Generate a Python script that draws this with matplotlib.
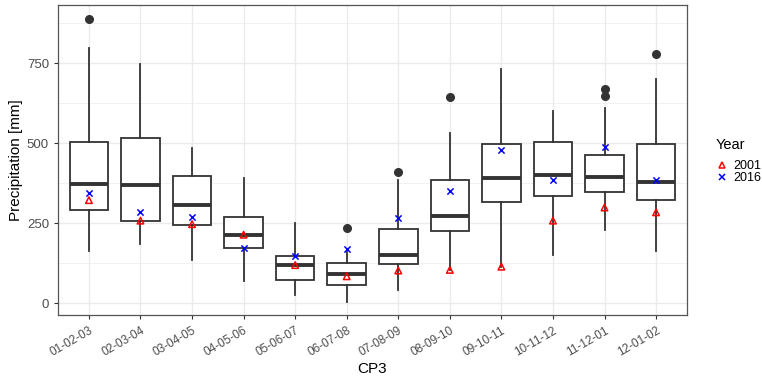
import numpy as np
import matplotlib
matplotlib.use("Agg")
import matplotlib.pyplot as plt
from matplotlib.lines import Line2D

plt.rcParams['font.family'] = ['Liberation Sans', 'DejaVu Sans']

# categories (CP3 three-month windows)
cats = ["01-02-03", "02-03-04", "03-04-05", "04-05-06", "05-06-07", "06-07-08",
        "07-08-09", "08-09-10", "09-10-11", "10-11-12", "11-12-01", "12-01-02"]

# box statistics
whislo = [164, 186, 135, 68, 26, 5, 42, 104, 114, 151, 229, 163]
q1 = [292, 256, 243, 172, 73, 56, 121, 225, 317, 334, 348, 321]
med = [372, 370, 307, 212, 118, 92, 151, 271, 391, 402, 393, 378]
q3 = [503, 516, 396, 269, 148, 125, 232, 384, 497, 505, 462, 498]
whishi = [799, 747, 486, 391, 252, 159, 385, 533, 731, 602, 609, 700]
fliers = [[888], [], [], [], [], [236], [410], [645], [], [], [669, 648], [780]]

# yearly values
y2001 = [322, 258, 247, 214, 119, 84, 102, 104, 114, 258, 299, 284]
y2016 = [345, 286, 268, 172, 147, 168, 266, 351, 479, 385, 488, 385]

fig = plt.figure(figsize=(7.62, 3.82), dpi=100)
ax = fig.add_axes([58 / 762, 1 - 315 / 382, (687 - 58) / 762, (315 - 5) / 382])

x = np.arange(1, len(cats) + 1)
stats = []
for i in range(len(cats)):
    stats.append(dict(whislo=whislo[i], q1=q1[i], med=med[i], q3=q3[i],
                      whishi=whishi[i], fliers=fliers[i]))

dark = "#333333"
ax.bxp(stats, positions=x, widths=0.75, showcaps=False, patch_artist=True,
       boxprops=dict(facecolor="white", edgecolor=dark, linewidth=1.3),
       whiskerprops=dict(color=dark, linewidth=1.3),
       medianprops=dict(color=dark, linewidth=2.8, solid_capstyle="butt"),
       flierprops=dict(marker="o", markerfacecolor=dark, markeredgecolor=dark,
                       markersize=5.5),
       zorder=2)

ax.scatter(x, y2001, marker="^", facecolors="none", edgecolors="#ff0000",
           s=22, linewidths=1.1, zorder=4)
ax.scatter(x, y2016, marker="x", color="#0000ff", s=20, linewidths=1.1, zorder=4)

ax.set_xlim(0.4, 12.6)
ax.set_ylim(-37, 932)
ax.set_yticks([0, 250, 500, 750])
ax.set_yticks([125, 375, 625, 875], minor=True)
ax.set_xticks(x)
ax.set_xticklabels(cats, rotation=30, ha="right", rotation_mode="anchor",
                   fontsize=8.5)

ax.grid(True, which="major", color="#ebebeb", linewidth=1.0, zorder=0)
ax.grid(True, which="minor", axis="y", color="#ebebeb", linewidth=0.5, zorder=0)
ax.set_axisbelow(True)
for s in ax.spines.values():
    s.set_color("#555555")
    s.set_linewidth(0.9)

ax.tick_params(axis="both", which="major", colors="#333333", labelcolor="#4d4d4d",
               length=3, width=0.8)
ax.tick_params(axis="y", labelsize=9.5)
ax.tick_params(axis="x", pad=4)
ax.tick_params(axis="y", which="minor", length=0)
ax.set_xlabel("CP3", fontsize=11, color="black", labelpad=2)
ax.set_ylabel("Precipitation [mm]", fontsize=11, color="black", labelpad=3)

# legend: title as separate text so the gap matches ggplot
fig.text(716 / 762, 1 - 145 / 382, "Year", fontsize=10.5, va="center", ha="left")
handles = [Line2D([], [], marker="^", linestyle="none", markerfacecolor="none",
                  markeredgecolor="#ff0000", markersize=5, markeredgewidth=1.1),
           Line2D([], [], marker="x", linestyle="none", color="#0000ff",
                  markersize=5, markeredgewidth=1.1)]
leg = fig.legend(handles, ["2001", "2016"], loc="upper left",
                 bbox_to_anchor=(716 / 762, 1 - 160 / 382), frameon=False,
                 fontsize=9, handlelength=0.9, borderaxespad=0,
                 handletextpad=0.5, labelspacing=0.0, borderpad=0)

fig.savefig("out.png", dpi=100)
